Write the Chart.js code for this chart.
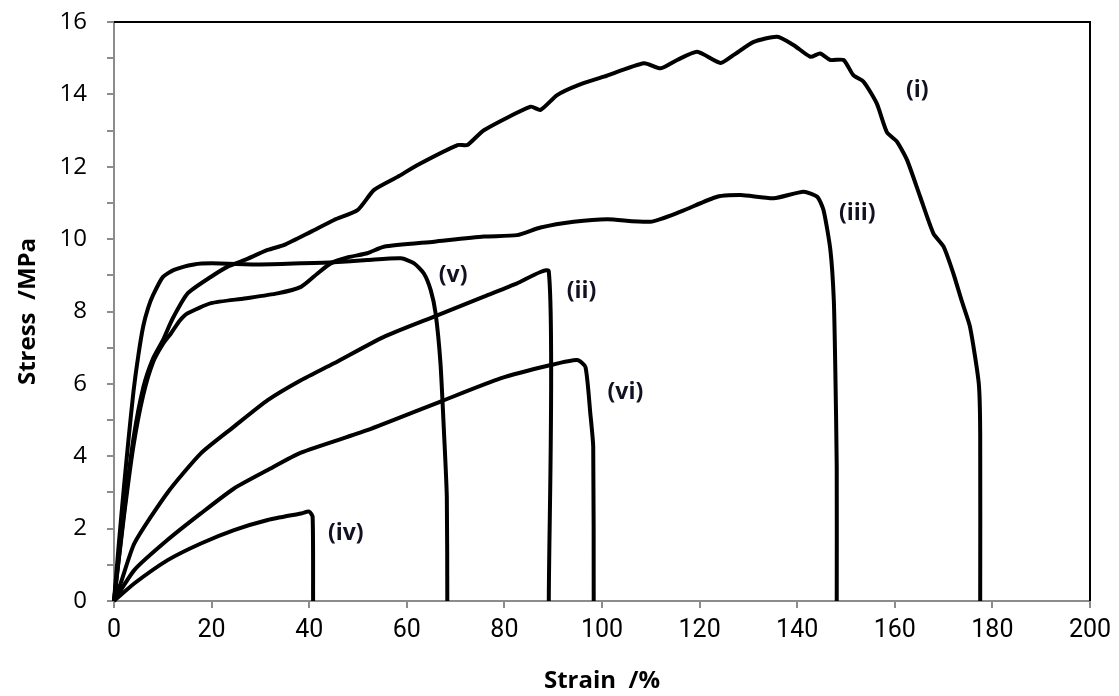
<!DOCTYPE html>
<html>
<head>
<meta charset="utf-8">
<script src="https://cdn.jsdelivr.net/npm/chart.js@4.4.1/dist/chart.umd.min.js"></script>
<style>
    html, body { margin: 0; padding: 0; background: #ffffff; }
    #wrap { width: 1119px; height: 696px; }
</style>
</head>
<body>
<div id="wrap"><canvas id="stressChart" width="1119" height="696"></canvas></div>
<script>
// strain (%) and stress (MPa) for each sample
const strainI  = [0, 2, 4, 6, 8, 10, 12, 15.1, 19.9, 23.3, 26.7, 31.5, 34.9, 40.3, 45.1, 49.9, 53.3, 58.1, 62.2, 70.4, 72.4, 75.8, 85.4, 87.4, 90.8, 95, 100.4, 108.6, 112, 115.4, 119.5, 124.3, 127, 131.1, 135.9, 139.3, 142.7, 144.7, 146.8, 149.5, 151.5, 153.6, 156.3, 158.4, 160.4, 162.5, 165.2, 167.9, 170, 172, 173.7, 175.4, 177.2, 177.5, 177.5];
const stressI  = [0, 2.4, 4.5, 5.9, 6.7, 7.2, 7.8, 8.5, 8.96, 9.24, 9.42, 9.7, 9.84, 10.2, 10.53, 10.8, 11.36, 11.72, 12.05, 12.6, 12.6, 13.01, 13.66, 13.57, 13.98, 14.25, 14.49, 14.86, 14.72, 14.95, 15.18, 14.87, 15.09, 15.45, 15.59, 15.36, 15.04, 15.13, 14.95, 14.95, 14.53, 14.35, 13.75, 12.95, 12.7, 12.19, 11.17, 10.16, 9.79, 9.05, 8.3, 7.58, 6.02, 4.63, 0];

const strainII = [0, 1.4, 4.2, 11, 17.8, 24.6, 31.5, 38.3, 45.1, 55.3, 65.6, 75.8, 82.6, 89.1, 89.1];
const stressII = [0, 0.5, 1.6, 3.0, 4.08, 4.82, 5.55, 6.1, 6.57, 7.3, 7.86, 8.41, 8.78, 9.1, 0];

const strainIII = [0, 2, 4, 6, 8, 10, 11.7, 13.5, 15.1, 19.9, 26.7, 33.5, 38.3, 41.7, 44.4, 48, 51.9, 55.3, 65.6, 75.8, 82.6, 87.4, 94.2, 101.1, 109.9, 116.1, 123.6, 128.4, 135.2, 141.3, 144.1, 145.4, 146.8, 147.5, 147.8, 148.1, 148.1];
const stressIII = [0, 2.3, 4.3, 5.7, 6.6, 7.1, 7.4, 7.75, 7.95, 8.23, 8.36, 8.5, 8.68, 9.05, 9.33, 9.5, 9.61, 9.79, 9.93, 10.07, 10.11, 10.32, 10.48, 10.55, 10.48, 10.76, 11.17, 11.22, 11.13, 11.31, 11.17, 10.8, 9.7, 8.32, 6.47, 3.71, 0];

const strainIV = [0, 4.2, 11, 17.8, 24.6, 31.5, 38.3, 40, 40.7, 40.8];
const stressIV = [0, 0.49, 1.13, 1.59, 1.96, 2.24, 2.42, 2.47, 2.33, 0];

const strainV  = [0, 1, 2, 3, 4, 5, 6, 7, 8, 10, 12.3, 16.4, 20, 30, 38.3, 45, 51.9, 58.8, 61.5, 63.5, 64.9, 65.9, 66.9, 67.6, 68.2, 68.3];
const stressV  = [0, 1.6, 3.1, 4.5, 5.8, 6.8, 7.6, 8.1, 8.45, 8.95, 9.15, 9.3, 9.33, 9.3, 9.33, 9.36, 9.42, 9.47, 9.33, 9.05, 8.59, 7.95, 6.57, 4.72, 2.88, 0];

const strainVI = [0, 4.2, 11, 17.8, 24.6, 31.5, 38.3, 51.9, 66.9, 79.2, 89.5, 94.9, 96.6, 97.6, 98.2, 98.3];
const stressVI = [0, 0.86, 1.69, 2.42, 3.11, 3.62, 4.1, 4.72, 5.51, 6.15, 6.52, 6.66, 6.47, 5.19, 4.26, 0];

// curve names and where they sit (in strain / stress units)
const curveNames = ["(i)", "(ii)", "(iii)", "(iv)", "(v)", "(vi)"];
const nameStrain = [164.6, 95.8, 152.3, 47.5, 69.5, 104.8];
const nameStress = [14.1, 8.55, 10.7, 1.88, 9.0, 5.75];

function toPoints(xs, ys)
{
    return xs.map(function(x, i) { return { x: x, y: ys[i] }; });
}

function curve(xs, ys)
{
    return {
        data: toPoints(xs, ys),
        borderColor: "#000000",
        borderWidth: 4,
        pointRadius: 0,
        tension: 0.2,
        fill: false
    };
}

// black frame on top and right, names of the curves
const framePlugin = {
    id: "frameAndNames",
    afterDatasetsDraw: function(chart)
    {
        const ctx = chart.ctx;
        const a = chart.chartArea;
        const xs = chart.scales.x;
        const ys = chart.scales.y;

        ctx.save();
        ctx.strokeStyle = "#000000";
        ctx.lineWidth = 2;
        ctx.beginPath();
        ctx.moveTo(a.left, a.top);
        ctx.lineTo(a.right, a.top);
        ctx.lineTo(a.right, a.bottom);
        ctx.stroke();

        ctx.fillStyle = "#111122";
        ctx.font = "bold 23px 'Open Sans', sans-serif";
        ctx.textAlign = "center";
        ctx.textBaseline = "middle";
        for (let i = 0; i < curveNames.length; i++)
        {
            ctx.fillText(curveNames[i], xs.getPixelForValue(nameStrain[i]), ys.getPixelForValue(nameStress[i]));
        }
        ctx.restore();
    }
};

new Chart(document.getElementById("stressChart").getContext("2d"),
{
    type: "line",
    data:
    {
        datasets: [
            curve(strainI, stressI),
            curve(strainII, stressII),
            curve(strainIII, stressIII),
            curve(strainIV, stressIV),
            curve(strainV, stressV),
            curve(strainVI, stressVI)
        ]
    },
    options:
    {
        responsive: false,
        animation: false,
        clip: false,
        layout: { padding: { left: 0, right: 29, top: 22, bottom: 0 } },
        plugins:
        {
            legend: { display: false },
            tooltip: { enabled: false }
        },
        scales:
        {
            x:
            {
                type: "linear",
                min: 0,
                max: 200,
                afterFit: function(s)
                {
                    s.height = 95;
                    s.paddingLeft = 0;
                    s.paddingRight = 0;
                },
                ticks:
                {
                    stepSize: 20,
                    color: "#000000",
                    padding: 8,
                    font: { family: "'Liberation Sans Narrow', 'Roboto', sans-serif", size: 25 }
                },
                grid: { drawOnChartArea: false, drawTicks: true, tickLength: 7, color: "#8c8c8c", lineWidth: 2 },
                border: { color: "#8c8c8c", width: 2 },
                title:
                {
                    display: true,
                    text: "Strain  /%",
                    color: "#000000",
                    padding: { top: 4, bottom: 0 },
                    font: { family: "'Open Sans', sans-serif", size: 24, weight: "bold" }
                }
            },
            y:
            {
                type: "linear",
                min: 0,
                max: 16,
                afterFit: function(s)
                {
                    s.width = 114;
                    s.paddingTop = 0;
                    s.paddingBottom = 0;
                },
                ticks:
                {
                    stepSize: 1,
                    color: "#000000",
                    padding: 20,
                    font: { family: "'Open Sans', sans-serif", size: 24 },
                    callback: function(value)
                    {
                        return value % 2 === 0 ? value : "";
                    }
                },
                grid: { drawOnChartArea: false, drawTicks: true, tickLength: 7, color: "#8c8c8c", lineWidth: 2 },
                border: { color: "#8c8c8c", width: 2 },
                title:
                {
                    display: true,
                    text: "Stress  /MPa",
                    color: "#000000",
                    padding: { top: 14, bottom: 4 },
                    font: { family: "'Open Sans', sans-serif", size: 24, weight: "bold" }
                }
            }
        }
    },
    plugins: [framePlugin]
});
</script>
</body>
</html>
